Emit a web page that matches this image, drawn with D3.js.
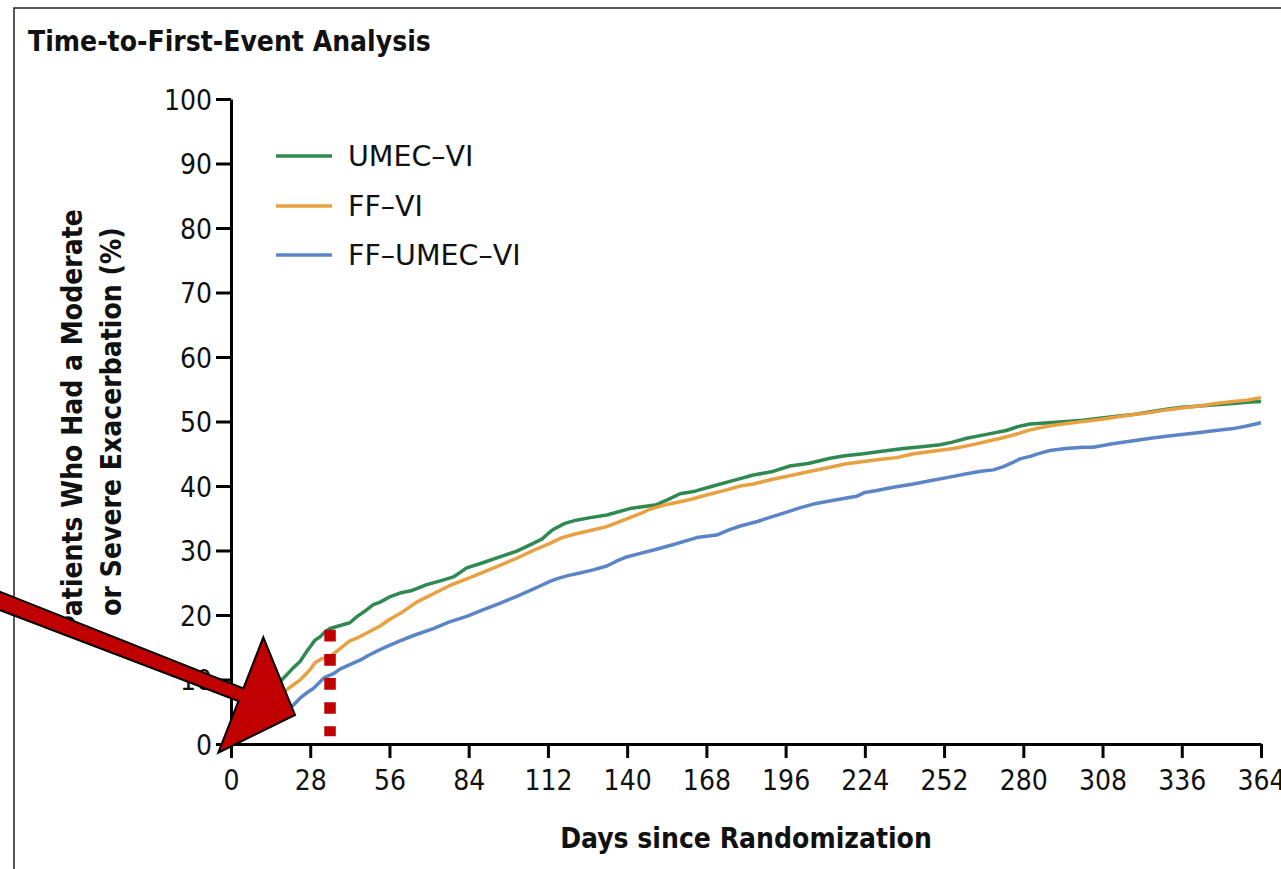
<!DOCTYPE html>
<html>
<head>
<meta charset="utf-8">
<script src="https://cdn.jsdelivr.net/npm/d3@7"></script>
<style>
  html, body { margin: 0; padding: 0; background: #fff; }
  svg { display: block; }
  text { font-family: "DejaVu Sans Condensed", "DejaVu Sans", sans-serif; fill: #111; }
</style>
</head>
<body>
<svg id="chart" width="1281" height="869"></svg>
<script>
// ---------- data ----------
const title = "Time-to-First-Event Analysis";
const xLabel = "Days since Randomization";
const yLabelLines = ["Patients Who Had a Moderate", "or Severe Exacerbation (%)"];
const seriesNames = ["UMEC\u2013VI", "FF\u2013VI", "FF\u2013UMEC\u2013VI"];
const xTicks = [0, 28, 56, 84, 112, 140, 168, 196, 224, 252, 280, 308, 336, 364];
const yTicks = [0, 10, 20, 30, 40, 50, 60, 70, 80, 90, 100];

const umecDays = [0,3,7,10,14,18.5,22,24.4,27,29.7,31.4,33,35,38,42,44.4,47,50.3,52.7,56,59.7,64,69.2,74,78.6,83.3,89,95,101,106.8,110,112,114,118,122,127,132.8,141,150.4,154,158.7,164,170.4,177,184.6,191,197.5,204,211.7,217,223.5,230,237.6,244,250.6,255,260,267,274,278,282.4,289,295.3,301,307,313,318.9,325,330.6,336,342.4,348,354.2,359,364];
const umecVals = [0,1.5,3.5,5.5,8.0,10.2,11.8,12.8,14.5,16.1,16.6,17.3,17.9,18.3,18.8,19.7,20.5,21.6,22.0,22.8,23.4,23.8,24.7,25.3,25.9,27.3,28.1,29.0,29.9,31.1,31.8,32.6,33.3,34.2,34.7,35.1,35.5,36.5,37.1,37.8,38.8,39.2,40.0,40.8,41.7,42.2,43.1,43.5,44.3,44.7,45.0,45.4,45.8,46.1,46.4,46.8,47.4,48.0,48.6,49.2,49.6,49.8,50.0,50.2,50.5,50.8,51.1,51.5,51.9,52.2,52.4,52.6,52.8,53.0,53.1];

const ffviDays = [0,3,7,10,14,17,20.2,24.4,27.9,29.7,32,35,38,42,44.4,48,52.7,56,60,65.6,71.5,77,83.3,89,95,101,106.8,112.7,117,122,127,132.8,138,144.6,148,152.8,157,162.3,168,175.2,180,184.6,191,197.5,204,211.7,217,223.5,229,235.3,241.2,248,255.3,261,267,272,276.5,282.4,289,295.3,301,307,313,318.9,325,330.6,336,342.4,348,354.2,359,364];
const ffviVals = [0,1.0,2.5,4.0,5.8,7.3,8.6,9.9,11.5,12.6,13.2,13.6,14.6,16.0,16.4,17.2,18.3,19.3,20.3,22.0,23.3,24.5,25.6,26.6,27.7,28.8,30.0,31.1,32.0,32.6,33.1,33.7,34.6,35.7,36.4,37.0,37.4,37.9,38.6,39.4,40.0,40.3,41.0,41.6,42.2,42.9,43.4,43.8,44.1,44.4,45.0,45.4,45.8,46.3,46.9,47.4,47.9,48.7,49.3,49.7,50.0,50.3,50.7,51.1,51.4,51.8,52.1,52.4,52.8,53.1,53.3,53.7];

const tripleDays = [0,3,7,10,14,18,22,24.4,27,29.1,31.4,33,36.2,38.5,42,45.6,48,52,55,59.7,65,71.5,77,83.3,89,95,101,106.8,109.2,112.7,115,119,123.3,128,132.8,136,139.8,145,150.4,157,164.6,171.6,176,180,186,191.6,197.5,201,205.8,213,221.1,224,228.2,234,241.2,247,253,260,265,269.4,273,276.5,278.8,282.4,286,289.4,295,301.2,304.7,311,318.9,325,330.6,336,342.4,348,354.2,359,364];
const tripleVals = [0,0.6,1.8,2.8,4.0,5.0,6.0,7.1,8.0,8.6,9.6,10.3,10.9,11.6,12.3,13.0,13.6,14.5,15.1,16.0,16.9,17.9,18.9,19.8,20.8,21.8,22.9,24.0,24.5,25.2,25.6,26.1,26.5,27.0,27.6,28.3,29.0,29.6,30.2,31.0,32.0,32.4,33.2,33.8,34.5,35.3,36.1,36.6,37.2,37.8,38.4,39.0,39.3,39.8,40.3,40.8,41.3,41.9,42.3,42.5,43.0,43.7,44.2,44.6,45.1,45.5,45.8,46.0,46.0,46.5,47.0,47.4,47.7,48.0,48.3,48.6,48.9,49.3,49.8];

// annotation: red dotted marker at day 35 and red arrow (data units)
const markerDay = 35;
const markerRange = [1.2, 17.7];
const arrowPts = [[-88.7,24.84],[4.38,8.62],[11.41,16.54],[22.62,4.50],[-4.49,-1.35],[2.62,6.65],[-88.7,21.95]];

const colors = ["#2f8a52", "#e8a040", "#5b85c6"];

// ---------- layout ----------
const svg = d3.select("#chart");
const x = d3.scaleLinear().domain([0, 364]).range([231, 1261]);
const y = d3.scaleLinear().domain([0, 100]).range([744, 99]);

// frame
svg.append("rect").attr("x", 14).attr("y", 8).attr("width", 1400).attr("height", 1000)
  .attr("fill", "none").attr("stroke", "#222").attr("stroke-width", 1.5);

// title
svg.append("text").attr("x", 28).attr("y", 51)
  .attr("font-size", 28).attr("font-weight", "bold").text(title);

// axes
const xAxis = svg.append("g").attr("transform", "translate(0,744)")
  .call(d3.axisBottom(x).tickValues(xTicks).tickSize(14).tickSizeOuter(0).tickPadding(12));
const yAxis = svg.append("g").attr("transform", "translate(231,0)")
  .call(d3.axisLeft(y).tickValues(yTicks).tickSize(15).tickSizeOuter(0).tickPadding(4));
[xAxis, yAxis].forEach(g => {
  g.attr("font-family", null).attr("font-size", null);
  g.select(".domain").attr("stroke", "#000").attr("stroke-width", 3);
  g.selectAll(".tick line").attr("stroke", "#000").attr("stroke-width", 3);
  g.selectAll(".tick text").attr("font-size", 28).attr("fill", "#111");
});
yAxis.selectAll(".tick text").attr("dy", "0.36em");

// axis labels
svg.append("text").attr("x", (x.range()[0] + x.range()[1]) / 2).attr("y", 848)
  .attr("text-anchor", "middle").attr("font-size", 28).attr("font-weight", "bold").text(xLabel);
const yMid = (y.range()[0] + y.range()[1]) / 2;
yLabelLines.forEach((t, i) => {
  svg.append("text").attr("transform", `translate(${82 + i * 39},${yMid}) rotate(-90)`)
    .attr("text-anchor", "middle").attr("font-size", 28).attr("font-weight", "bold").text(t);
});

// curves
const line = d3.line().x(d => x(d[0])).y(d => y(d[1])).curve(d3.curveLinear);
const series = [
  d3.zip(umecDays, umecVals),
  d3.zip(ffviDays, ffviVals),
  d3.zip(tripleDays, tripleVals)
];
[2, 0, 1].forEach(i => {
  svg.append("path").datum(series[i]).attr("d", line)
    .attr("fill", "none").attr("stroke", colors[i]).attr("stroke-width", 3.5)
    .attr("stroke-linejoin", "round");
});

// legend
const legY = [156, 206, 255];
seriesNames.forEach((n, i) => {
  svg.append("line").attr("x1", 276).attr("x2", 332).attr("y1", legY[i]).attr("y2", legY[i])
    .attr("stroke", colors[i]).attr("stroke-width", 3.5);
  svg.append("text").attr("x", 348).attr("y", legY[i] + 10).attr("font-size", 28.5)
    .style("font-family", '"DejaVu Sans", sans-serif').text(n);
});

// red dotted marker
svg.append("line").attr("x1", x(markerDay)).attr("x2", x(markerDay))
  .attr("y1", y(markerRange[1])).attr("y2", y(markerRange[0]))
  .attr("stroke", "#c00000").attr("stroke-width", 11.5).attr("stroke-dasharray", "11.7,12.4");

// red arrow
svg.append("path")
  .attr("d", d3.line().x(d => x(d[0])).y(d => y(d[1]))(arrowPts) + "Z")
  .attr("fill", "#c00000").attr("stroke", "#000").attr("stroke-width", 2).attr("stroke-linejoin", "miter");
</script>
</body>
</html>
